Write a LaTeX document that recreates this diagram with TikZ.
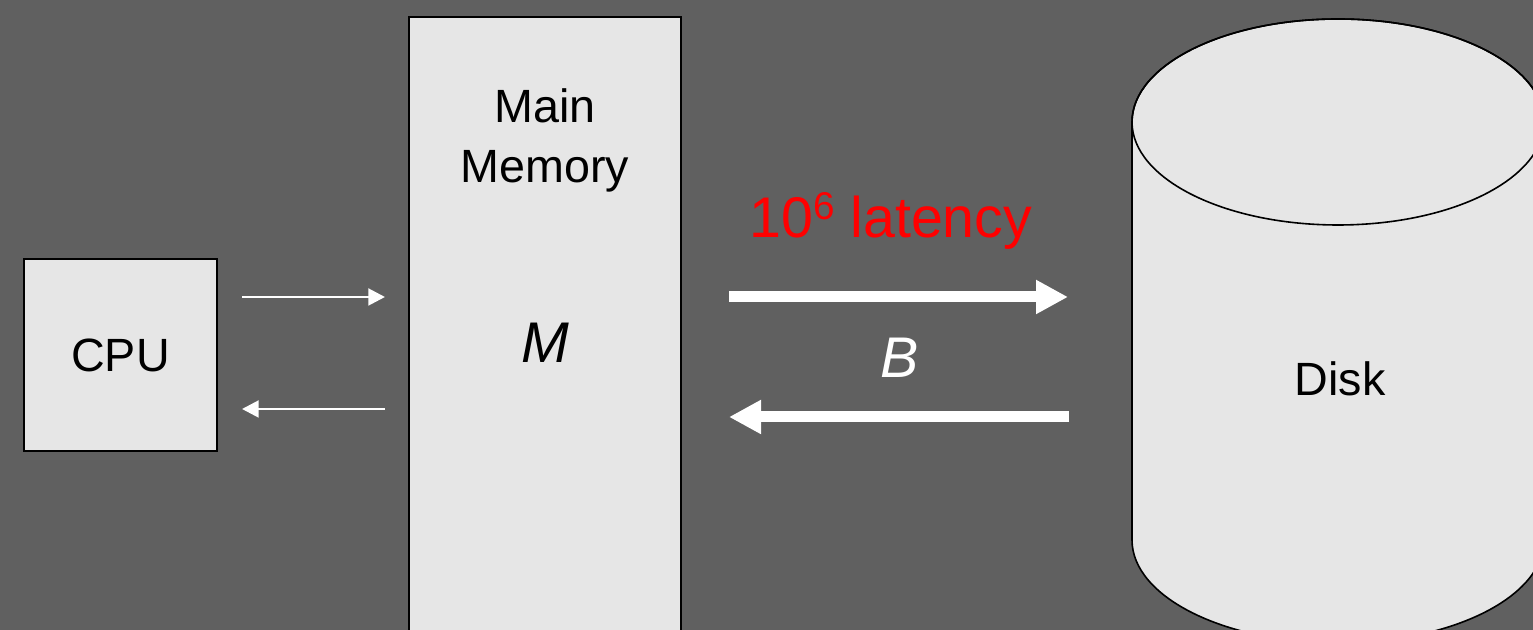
\documentclass[tikz,border=0pt]{standalone}
\usepackage{fontspec}
\setmainfont{Liberation Sans}
\usetikzlibrary{arrows.meta}
\definecolor{slatebg}{HTML}{606060}
\definecolor{boxfill}{HTML}{E6E6E6}
\definecolor{hotred}{HTML}{FF0000}
\tikzset{
  unitbox/.style={draw=black, line width=1.1pt, fill=boxfill, inner sep=0pt},
  bigtext/.style={font=\fontsize{35pt}{45pt}\selectfont, align=center, inner sep=0pt},
  symtext/.style={font=\fontsize{43pt}{50pt}\selectfont\itshape, inner sep=0pt},
  thinlink/.style={draw=white, line width=2.2pt, -{Triangle[length=12.5pt,width=12.5pt]}},
  thicklink/.style={draw=white, line width=8.25pt, -{Triangle[length=24pt,width=24pt]}},
}
\newcommand{\powsix}{\raisebox{13.5pt}{\fontsize{29pt}{31pt}\selectfont 6}}
\begin{document}
\begin{tikzpicture}[x=0.75pt,y=0.75pt]
  % canvas
  \fill[slatebg] (0,0) rectangle (1533,630);
  \useasboundingbox (0,0) rectangle (1533,630);
  \clip (0,0) rectangle (1533,630);

  % CPU
  \node[unitbox, minimum width=144.75pt, minimum height=144pt] (cpu) at (120.5,275) {};
  \node[bigtext] (cpulabel) at (120.5,275) {CPU};

  % main memory column
  \node[unitbox, minimum width=204pt, minimum height=480pt] (mem) at (545,293) {};
  \node[bigtext] (memlabel) at (545,490) {Main\\Memory};
  \node[symtext] (msym) at (545,287) {M};

  % disk cylinder
  \path[draw=black, line width=1.2pt, fill=boxfill]
    (1132,508) -- (1132,90)
    arc[start angle=180, end angle=360, x radius=154.5pt, y radius=77.25pt]
    -- (1544,508)
    arc[start angle=0, end angle=180, x radius=154.5pt, y radius=77.25pt]
    -- cycle;
  \draw[black, line width=1.2pt] (1338,508) ellipse[x radius=154.5pt, y radius=77.25pt];
  \node[bigtext] (disk) at (1340,251) {Disk};

  % CPU <-> memory
  \coordinate (c2mA) at (242,333);
  \coordinate (c2mB) at (385,333);
  \coordinate (m2cA) at (385,221);
  \coordinate (m2cB) at (242,221);
  \draw[thinlink] (c2mA) -- (c2mB);
  \draw[thinlink] (m2cA) -- (m2cB);

  % memory <-> disk
  \coordinate (m2dA) at (729,333);
  \coordinate (m2dB) at (1068,333);
  \coordinate (d2mA) at (1069,213);
  \coordinate (d2mB) at (729,213);
  \draw[thicklink] (m2dA) -- (m2dB);
  \draw[thicklink] (d2mA) -- (d2mB);

  \node[font=\fontsize{43pt}{50pt}\selectfont, text=hotred, inner sep=0pt, anchor=base west]
    (lat) at (749,392) {10\powsix{} latency};
  \node[symtext, text=white] (bsym) at (900,272) {B};
\end{tikzpicture}
\end{document}
